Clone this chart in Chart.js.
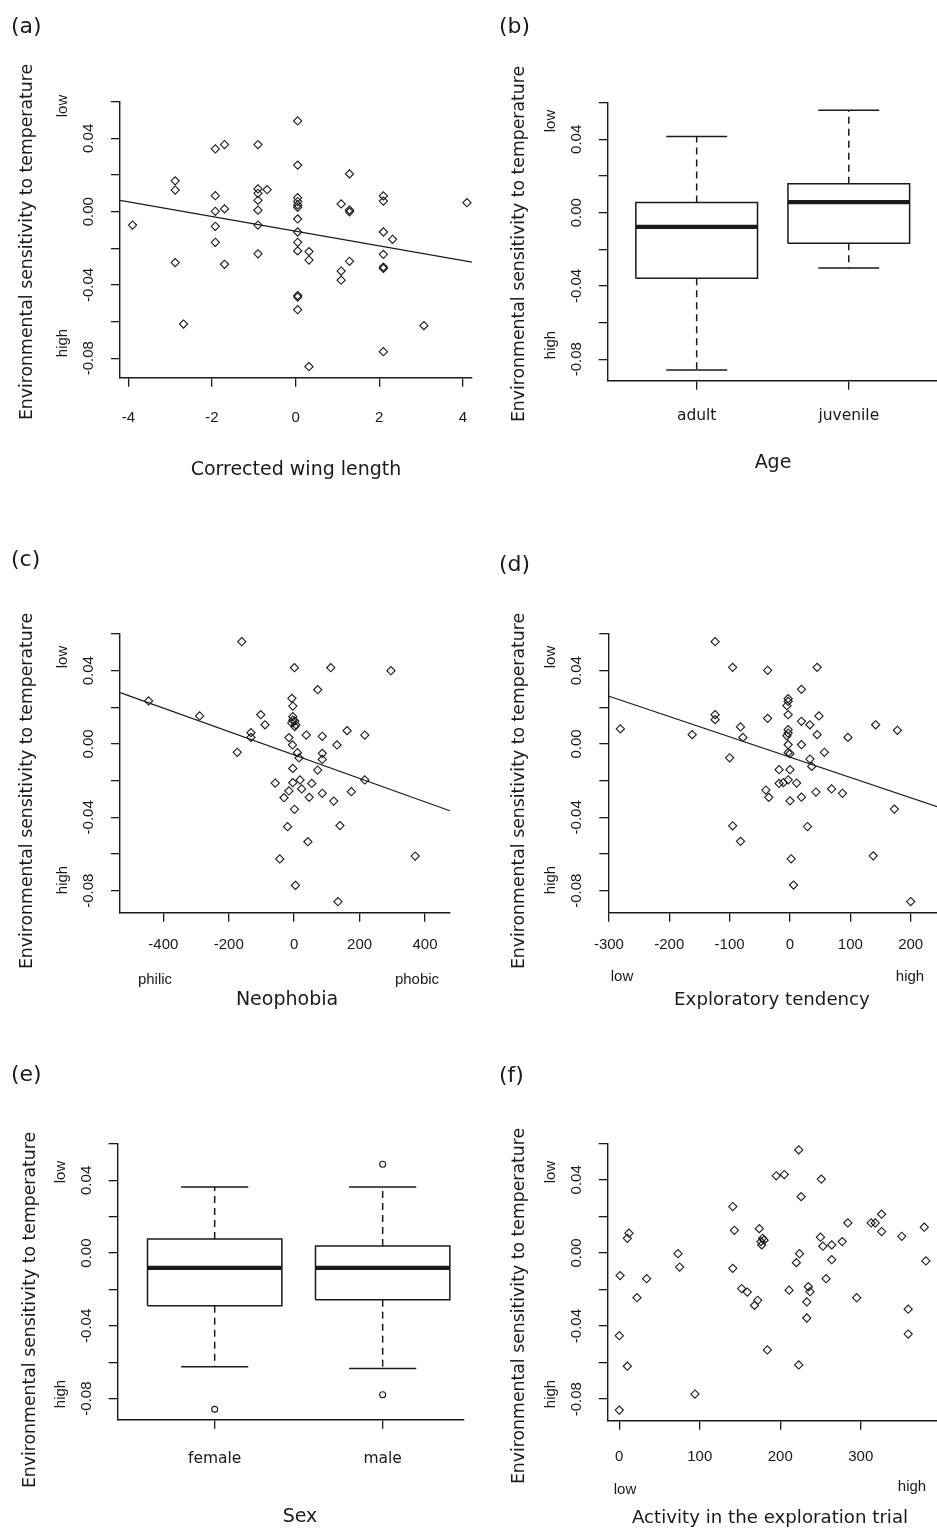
<!DOCTYPE html>
<html>
<head>
  <meta charset="utf-8">
  <title>Environmental sensitivity to temperature</title>
  <script src="https://cdn.jsdelivr.net/npm/chart.js"></script>
  <style>
    body { margin: 0; background: #fff; }
    #wrap { position: relative; width: 937px; height: 1533px; overflow: hidden; }
    #wrap canvas { position: absolute; left: 0; top: 0; }
  </style>
</head>
<body>
  <div id="wrap">
    <canvas id="panelA" width="937" height="1533"></canvas>
    <canvas id="panelB" width="937" height="1533"></canvas>
    <canvas id="panelC" width="937" height="1533"></canvas>
    <canvas id="panelD" width="937" height="1533"></canvas>
    <canvas id="panelE" width="937" height="1533"></canvas>
    <canvas id="panelF" width="937" height="1533"></canvas>
  </div>

  <script>
    // shared y axis (sensitivity slope)
    const yTickValues = [-0.08, -0.06, -0.04, -0.02, 0, 0.02, 0.04, 0.06];
    const yLabelValues = [0.04, 0, -0.04, -0.08];
    const yLabelTexts = ['0.04', '0.00', '-0.04', '-0.08'];
    const yTitle = 'Environmental sensitivity to temperature';

    // (a) corrected wing length
    const wingTicks = [-4, -2, 0, 2, 4];
    const wingX = [-3.9, -2.88, -2.88, -2.88, -2.68, -1.92, -1.70, -1.92, -1.92, -1.70, -1.92, -1.92, -1.70,
      -0.90, -0.90, -0.90, -0.90, -0.68, -0.90, -0.90, -0.90,
      0.05, 0.05, 0.05, 0.05, 0.05, 0.05, 0.05, 0.05, 0.05, 0.05, 0.05, 0.05, 0.05,
      0.32, 0.32, 0.32, 1.09, 1.09, 1.09, 1.29, 1.29, 1.29, 1.29,
      2.1, 2.1, 2.1, 2.1, 2.1, 2.1, 2.1, 2.32, 3.07, 4.1];
    const wingY = [-0.0073, 0.0168, 0.0118, -0.0278, -0.0613, 0.0342, 0.0366, 0.0087, 0.0002, 0.0015, -0.008, -0.0167, -0.0287,
      0.0366, 0.0124, 0.0100, 0.0062, 0.012, 0.0008, -0.0073, -0.023,
      0.0495, 0.0254, 0.0076, 0.0055, 0.0037, 0.0024, -0.004, -0.0111, -0.0167, -0.0214, -0.0458, -0.0466, -0.0535,
      -0.0218, -0.0264, -0.0846, 0.0042, -0.0324, -0.0374, 0.0206, 0.0009, -0.0001, -0.0271,
      0.0086, 0.0058, -0.0111, -0.0233, -0.0302, -0.031, -0.0764, -0.0151, -0.0622, 0.0049];
    const wingFitX = [-4.2, 4.22];
    const wingFitY = [0.0062, -0.0275];

    // (b) age
    const ageGroups = ['adult', 'juvenile'];
    const ageLow = [-0.0858, -0.0302];
    const ageQ1 = [-0.0358, -0.0167];
    const ageMedian = [-0.0078, 0.0057];
    const ageQ3 = [0.0055, 0.0158];
    const ageHigh = [0.0415, 0.0559];
    const ageOutliers = [[], []];

    // (c) neophobia
    const neoTicks = [-400, -200, 0, 200, 400];
    const neoX = [-445, -289, -160, -102, -89, -132, -132, -174, -58, -31, -16, -4, 1, -20, -44, 4, 1, -16, -5, -4,
      112, 296, 72, -7, -4, -4, -4, 2, -7, 5, 2, 37, 86, 162, 216, 131, 10, 15, 86, 86, 72, 216, 18, 54, 23,
      46, 86, 175, 121, 140, 42, 370, 134];
    const neoY = [0.0235, 0.0153, 0.0558, 0.016, 0.0105, 0.0062, 0.0036, -0.0045, -0.0213, -0.0293, -0.0256, -0.0211, -0.0356, -0.0451, -0.0627, -0.0771, 0.0416, 0.0035, -0.0005, -0.0133,
      0.0416, 0.04, 0.0296, 0.0249, 0.0207, 0.0149, 0.013, 0.0125, 0.0115, 0.0105, 0.0095, 0.0049, 0.0042, 0.0073, 0.0049, -0.0005, -0.0047, -0.0076, -0.0051, -0.0084, -0.0142, -0.0196, -0.0196, -0.0215, -0.0245,
      -0.0291, -0.0269, -0.026, -0.0311, -0.0445, -0.0533, -0.0611, -0.086];
    const neoFitX = [-532, 476];
    const neoFitY = [0.028, -0.0364];

    // (d) exploratory tendency
    const expTicks = [-300, -200, -100, 0, 100, 200];
    const expX = [-281, -162, -124, -124, -124, -95, -82, -78, -100, -95, -82, -37, -37, -40, -35, -18, -18,
      45, 19, -3, -3, -5, -3, 19, 33, 48, 45, -3, -3, -5, -3, 19, 96, 142, 178, -3, 0, 57, 33, 36, 0, -3, -11, 11,
      0, 19, 43, 69, 87, 173, 29, 2, 138, 6, 200];
    const expY = [0.0082, 0.0051, 0.0558, 0.016, 0.0133, 0.0418, 0.0093, 0.0036, -0.0075, -0.0446, -0.0531, 0.0402, 0.014, -0.0251, -0.0291, -0.014, -0.0215,
      0.0418, 0.0298, 0.0247, 0.0232, 0.0209, 0.016, 0.0124, 0.0105, 0.0153, 0.0051, 0.0078, 0.006, 0.0045, -0.0004, -0.0004, 0.0036, 0.0105, 0.0075, -0.0047, -0.0053, -0.0045, -0.0082, -0.0122, -0.014, -0.0195, -0.021, -0.0213,
      -0.031, -0.029, -0.0262, -0.0245, -0.0269, -0.0355, -0.045, -0.0626, -0.061, -0.0769, -0.0859];
    const expFitX = [-301, 244];
    const expFitY = [0.0262, -0.0342];

    // (e) sex
    const sexGroups = ['female', 'male'];
    const sexLow = [-0.0625, -0.0634];
    const sexQ1 = [-0.029, -0.0257];
    const sexMedian = [-0.0081, -0.0081];
    const sexQ3 = [0.0077, 0.0039];
    const sexHigh = [0.0363, 0.0363];
    const sexOutliers = [[-0.0859], [0.0489, -0.0779]];

    // (f) activity in the exploration trial
    const actTicks = [0, 100, 200, 300];
    const actX = [0, 0, 1, 10, 10, 12, 22, 34, 73, 75, 94, 141, 143, 141, 152, 159, 168, 172, 174, 176, 178, 177, 180, 184, 195,
      223, 205, 251, 226, 284, 313, 318, 326, 326, 351, 379, 381, 359, 359, 250, 253, 264, 277, 264, 224, 220, 257, 211,
      235, 237, 233, 233, 295, 223];
    const actY = [-0.086, -0.0453, -0.0124, -0.062, 0.008, 0.0108, -0.0245, -0.0141, -0.0004, -0.0077, -0.0772, 0.0254, 0.0124, -0.0084, -0.0195, -0.0214, -0.0287, -0.0259, 0.0133, 0.0062, 0.008, 0.0044, 0.007, -0.0531, 0.0422,
      0.0564, 0.0429, 0.0404, 0.0308, 0.0164, 0.0164, 0.0164, 0.0212, 0.0117, 0.0091, 0.0141, -0.0044, -0.0308, -0.0444, 0.0086, 0.0037, 0.0044, 0.0062, -0.0037, -0.0004, -0.0053, -0.0141, -0.0204,
      -0.0185, -0.0212, -0.0268, -0.0356, -0.0245, -0.0613];

    const W = 937, H = 1533, AX = 30;
    const INK = '#1a1a1a';
    const F_NUM = '15px "Liberation Sans", Arial, sans-serif';
    const F_CAT = '15.5px "DejaVu Sans", sans-serif';
    const F_XT = '19px "DejaVu Sans", sans-serif';
    const F_XT_SMALL = '18.2px "DejaVu Sans", sans-serif';
    const F_YT = '17.3px "DejaVu Sans", sans-serif';
    const F_SMALL = '15px "Liberation Sans", Arial, sans-serif';
    const F_LET = '22px "DejaVu Sans", sans-serif';

    function axis(min, max, ticks, vertical) {
      return {
        type: 'linear', min: min, max: max,
        afterFit: s => { if (vertical) s.width = AX; else s.height = AX; },
        afterBuildTicks: s => { s.ticks = ticks.map(v => ({ value: v })); },
        ticks: { display: false },
        grid: { drawOnChartArea: false, drawTicks: true, tickLength: 9, color: INK, lineWidth: 1.3 },
        border: { display: true, color: INK, width: 1.4 }
      };
    }

    function pts(xs, ys) {
      return xs.map((x, i) => ({ x: x, y: ys[i] }));
    }

    function scatterSet(xs, ys) {
      return { data: pts(xs, ys), pointStyle: 'rectRot', pointRadius: 4.1, borderColor: INK,
        borderWidth: 1.1, backgroundColor: 'rgba(0,0,0,0)', clip: false };
    }

    function fitSet(xs, ys) {
      return { data: pts(xs, ys), showLine: true, pointRadius: 0, borderColor: INK, borderWidth: 1.2 };
    }

    // boxplot drawn as line segments on a linear x axis (group i sits at x = i + 1)
    function boxSets(lo, q1, med, q3, hi, out) {
      const sets = [];
      const seg = (xy, extra) => sets.push(Object.assign({
        data: xy.map(p => ({ x: p[0], y: p[1] })), showLine: true, pointRadius: 0,
        borderColor: INK, borderWidth: 1.5, clip: false
      }, extra || {}));
      lo.forEach((_, i) => {
        const c = i + 1;
        seg([[c, q3[i]], [c, hi[i]]], { borderDash: [7, 5] });
        seg([[c, q1[i]], [c, lo[i]]], { borderDash: [7, 5] });
        seg([[c - 0.2, hi[i]], [c + 0.2, hi[i]]]);
        seg([[c - 0.2, lo[i]], [c + 0.2, lo[i]]]);
        seg([[c - 0.4, q1[i]], [c + 0.4, q1[i]], [c + 0.4, q3[i]], [c - 0.4, q3[i]], [c - 0.4, q1[i]]]);
        seg([[c - 0.4, med[i]], [c + 0.4, med[i]]], { borderWidth: 4.2 });
        if (out[i].length) {
          sets.push({ data: out[i].map(v => ({ x: c, y: v })), pointStyle: 'circle', pointRadius: 3,
            borderColor: INK, borderWidth: 1.1, backgroundColor: 'rgba(0,0,0,0)', clip: false });
        }
      });
      return sets;
    }

    function textPlugin(p) {
      return {
        id: 'panelText',
        afterDraw(chart) {
          const ctx = chart.ctx, sx = chart.scales.x, sy = chart.scales.y;
          const put = (t, x, y, font, rot, align) => {
            ctx.save();
            ctx.translate(x, y);
            if (rot) ctx.rotate(-Math.PI / 2);
            ctx.font = font;
            ctx.fillStyle = INK;
            ctx.textAlign = align || 'center';
            ctx.textBaseline = 'middle';
            ctx.fillText(t, 0, 0);
            ctx.restore();
          };
          const l = chart.chartArea.left;
          yLabelValues.forEach((v, i) => put(yLabelTexts[i], l - 31, sy.getPixelForValue(v), F_NUM, true));
          p.xVals.forEach((v, i) => put(p.xTexts[i], sx.getPixelForValue(v), p.xLabY, p.xFont));
          put(p.letter[0], p.letter[1], p.letter[2], F_LET, false, 'left');
          put(yTitle, p.yTitle[0], p.yTitle[1], F_YT, true);
          put('low', l - 57, p.lowHigh[0], F_SMALL, true);
          put('high', l - 57, p.lowHigh[1], F_SMALL, true);
          put(p.xTitle[0], p.xTitle[1], p.xTitle[2], p.xTitle[3] || F_XT);
          (p.extra || []).forEach(e => put(e[0], e[1], e[2], F_SMALL));
        }
      };
    }

    function panel(id, area, xr, xTicks, yMin, datasets, text) {
      new Chart(document.getElementById(id), {
        type: 'scatter',
        data: { datasets: datasets },
        options: {
          responsive: false,
          animation: false,
          events: [],
          layout: { autoPadding: false,
            padding: { left: area.l - AX, top: area.t, right: W - area.r, bottom: H - area.b - AX } },
          plugins: { legend: { display: false }, tooltip: { enabled: false } },
          scales: {
            x: axis(xr[0], xr[1], xTicks, false),
            y: axis(yMin, 0.06, yTickValues, true)
          }
        },
        plugins: [textPlugin(text)]
      });
    }

    panel('panelA', { l: 120, t: 101.7, r: 472, b: 377.7 }, [-4.2, 4.22], wingTicks, -0.0906,
      [scatterSet(wingX, wingY), fitSet(wingFitX, wingFitY)],
      { xVals: wingTicks, xTexts: wingTicks.map(String), xLabY: 418, xFont: F_NUM,
        letter: ['(a)', 11, 27], yTitle: [28, 242], lowHigh: [106, 343],
        xTitle: ['Corrected wing length', 296, 470] });

    panel('panelB', { l: 607.7, t: 102.7, r: 937, b: 380.7 }, [0.415, 2.58], [1, 2], -0.0917,
      boxSets(ageLow, ageQ1, ageMedian, ageQ3, ageHigh, ageOutliers),
      { xVals: [1, 2], xTexts: ageGroups, xLabY: 416, xFont: F_CAT,
        letter: ['(b)', 499, 27], yTitle: [520, 244], lowHigh: [121, 345],
        xTitle: ['Age', 773, 463] });

    panel('panelC', { l: 120, t: 634, r: 450, b: 912.7 }, [-532.4, 476.5], neoTicks, -0.092,
      [scatterSet(neoX, neoY), fitSet(neoFitX, neoFitY)],
      { xVals: neoTicks, xTexts: neoTicks.map(String), xLabY: 945, xFont: F_NUM,
        letter: ['(c)', 11, 560], yTitle: [28, 791], lowHigh: [657, 880],
        xTitle: ['Neophobia', 287, 1000], extra: [['philic', 155, 980], ['phobic', 417, 980]] });

    panel('panelD', { l: 608.3, t: 634, r: 937, b: 912.7 }, [-301, 243.6], expTicks, -0.092,
      [scatterSet(expX, expY), fitSet(expFitX, expFitY)],
      { xVals: expTicks, xTexts: expTicks.map(String), xLabY: 945, xFont: F_NUM,
        letter: ['(d)', 499, 565], yTitle: [520, 791], lowHigh: [657, 880],
        xTitle: ['Exploratory tendency', 772, 1000, F_XT_SMALL], extra: [['low', 622, 977], ['high', 910, 977]] });

    panel('panelE', { l: 117.7, t: 1144, r: 463.3, b: 1419.7 }, [0.4226, 2.48], [1, 2], -0.0916,
      boxSets(sexLow, sexQ1, sexMedian, sexQ3, sexHigh, sexOutliers),
      { xVals: [1, 2], xTexts: sexGroups, xLabY: 1459, xFont: F_CAT,
        letter: ['(e)', 11, 1075], yTitle: [31, 1310], lowHigh: [1172, 1394],
        xTitle: ['Sex', 300, 1517] });

    panel('panelF', { l: 607.7, t: 1143.3, r: 937, b: 1420.7 }, [-14.4, 394.8], actTicks, -0.0918,
      [scatterSet(actX, actY)],
      { xVals: actTicks, xTexts: actTicks.map(String), xLabY: 1457, xFont: F_NUM,
        letter: ['(f)', 499, 1076], yTitle: [520, 1306], lowHigh: [1172, 1394],
        xTitle: ['Activity in the exploration trial', 770, 1518, F_XT_SMALL], extra: [['low', 625, 1490], ['high', 912, 1487]] });
  </script>
</body>
</html>
